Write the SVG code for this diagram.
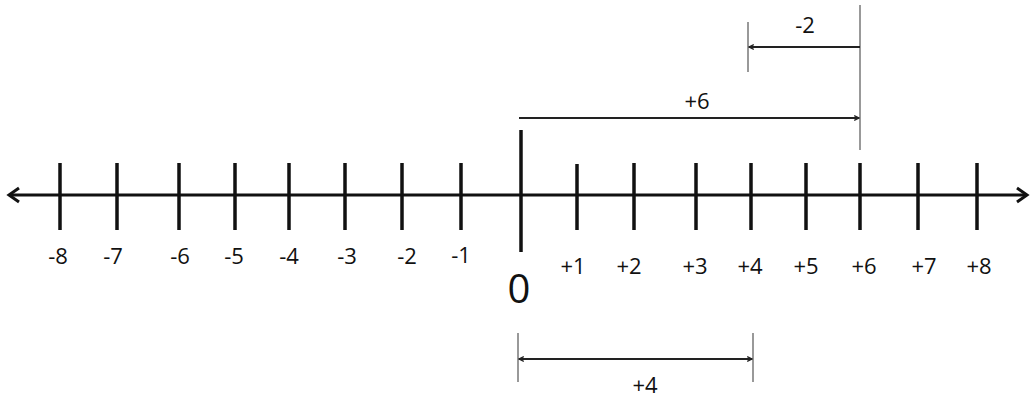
<svg xmlns="http://www.w3.org/2000/svg" width="1032" height="399" viewBox="0 0 1032 399">
<style>
text{font-family:"Open Sans","Noto Sans",sans-serif;fill:#111;text-anchor:middle}
.lbl{font-size:22px}
.tick{stroke:#111;stroke-width:3.5}
.guide{stroke:#777;stroke-width:1.5}
.arr{stroke:#222;stroke-width:2.2;fill:none}
</style>
<defs>
<marker id="ah" viewBox="0 0 10 10" refX="9" refY="5" markerWidth="6" markerHeight="6" markerUnits="userSpaceOnUse" orient="auto-start-reverse">
<path d="M1,1 L9,5 L1,9" fill="none" stroke="#222" stroke-width="2"/>
</marker>
</defs>
<rect width="1032" height="399" fill="#fff"/>
<g id="axis">
<line x1="9" y1="195" x2="1027" y2="195" stroke="#111" stroke-width="3"/>
<path d="M19,188 L9,195 L19,202" fill="none" stroke="#111" stroke-width="3"/>
<path d="M1017,188 L1027,195 L1017,202" fill="none" stroke="#111" stroke-width="3"/>
</g>
<g id="ticks">
<line class="tick" x1="60" y1="163" x2="60" y2="230"/>
<line class="tick" x1="117" y1="163" x2="117" y2="230"/>
<line class="tick" x1="179" y1="163" x2="179" y2="230"/>
<line class="tick" x1="235" y1="163" x2="235" y2="230"/>
<line class="tick" x1="289" y1="163" x2="289" y2="230"/>
<line class="tick" x1="345" y1="163" x2="345" y2="230"/>
<line class="tick" x1="402" y1="163" x2="402" y2="230"/>
<line class="tick" x1="461" y1="163" x2="461" y2="230"/>
<line class="tick" x1="521" y1="130" x2="521" y2="252" stroke-width="4"/>
<line class="tick" x1="577" y1="164" x2="577" y2="230"/>
<line class="tick" x1="634" y1="163" x2="634" y2="230"/>
<line class="tick" x1="696" y1="163" x2="696" y2="230"/>
<line class="tick" x1="751" y1="163" x2="751" y2="230"/>
<line class="tick" x1="806" y1="163" x2="806" y2="230"/>
<line class="tick" x1="860" y1="163" x2="860" y2="230"/>
<line class="tick" x1="918" y1="163" x2="918" y2="230"/>
<line class="tick" x1="977" y1="163" x2="977" y2="230"/>
</g>
<g id="labels">
<text class="lbl" x="58" y="264">-8</text>
<text class="lbl" x="113" y="264">-7</text>
<text class="lbl" x="180" y="264">-6</text>
<text class="lbl" x="234" y="264">-5</text>
<text class="lbl" x="289" y="264">-4</text>
<text class="lbl" x="347" y="264">-3</text>
<text class="lbl" x="407" y="264">-2</text>
<text class="lbl" x="461" y="263">-1</text>
<text x="519" y="303" style="font-size:40px">0</text>
<text class="lbl" x="573" y="274">+1</text>
<text class="lbl" x="629" y="274">+2</text>
<text class="lbl" x="695" y="274">+3</text>
<text class="lbl" x="750" y="274">+4</text>
<text class="lbl" x="806" y="274">+5</text>
<text class="lbl" x="864" y="274">+6</text>
<text class="lbl" x="924" y="274">+7</text>
<text class="lbl" x="979" y="274">+8</text>
</g>
<g id="connectors">
<line class="guide" x1="860" y1="5" x2="860" y2="150"/>
<line class="guide" x1="748" y1="22" x2="748" y2="72"/>
<line class="guide" x1="518" y1="333" x2="518" y2="382"/>
<line class="guide" x1="753" y1="333" x2="753" y2="382"/>
<line class="arr" x1="519" y1="118" x2="859" y2="118" marker-end="url(#ah)"/>
<line class="arr" x1="860" y1="47" x2="749" y2="47" marker-end="url(#ah)"/>
<line class="arr" x1="519" y1="359" x2="752" y2="359" marker-start="url(#ah)" marker-end="url(#ah)"/>
<text class="lbl" x="697" y="109">+6</text>
<text class="lbl" x="805" y="33">-2</text>
<text class="lbl" x="645" y="393">+4</text>
</g>
</svg>
